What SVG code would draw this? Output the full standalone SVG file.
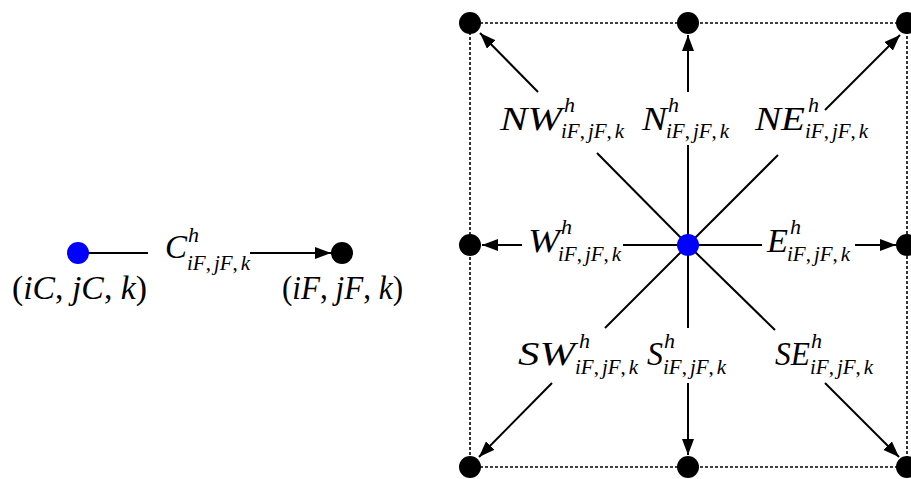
<svg xmlns="http://www.w3.org/2000/svg" width="911" height="479" viewBox="0 0 911 479">
<style>
  .bg { fill: #ffffff; }
  .ln { stroke: #000; stroke-width: 2; fill: none; }
  .ar { stroke: #000; stroke-width: 2; fill: none; marker-end: url(#ah); }
  .box { stroke: #000; stroke-width: 1.6; fill: none; stroke-dasharray: 3 2; }
  .blk { fill: #000; }
  .blu { fill: #0000ff; }
  text { font-family: "Liberation Serif", "Times New Roman", serif; font-style: italic; fill: #000; }
  .m { font-size: 33px; }
  .sp { font-size: 22px; }
  .sb { font-size: 21px; }
  .r { font-style: normal; }
</style>
<defs>
  <marker id="ah" markerUnits="userSpaceOnUse" markerWidth="18" markerHeight="12" refX="16" refY="6" orient="auto">
    <path d="M0,0 L16,6 L0,12 Z" fill="#000"/>
  </marker>
</defs>
<rect class="bg" x="0" y="0" width="911" height="479"/>
<g id="grid-border">
  <rect class="box" x="470" y="23" width="437" height="444"/>
</g>
<g id="connectors">
  <line class="ln" x1="88" y1="253" x2="148" y2="253"/>
  <line class="ar" x1="250" y1="253" x2="331" y2="253"/>
  <line class="ln" x1="688" y1="245" x2="597" y2="153"/>
  <line class="ln" x1="688" y1="245" x2="688" y2="145"/>
  <line class="ln" x1="688" y1="245" x2="778" y2="155"/>
  <line class="ln" x1="688" y1="245" x2="623" y2="245"/>
  <line class="ln" x1="688" y1="245" x2="762" y2="245"/>
  <line class="ln" x1="688" y1="245" x2="605" y2="328"/>
  <line class="ln" x1="688" y1="245" x2="688" y2="328"/>
  <line class="ln" x1="688" y1="245" x2="775" y2="330"/>
  <line class="ar" x1="538" y1="92" x2="480" y2="33"/>
  <line class="ar" x1="688" y1="92" x2="688" y2="35"/>
  <line class="ar" x1="825" y1="110" x2="900" y2="35"/>
  <line class="ar" x1="522" y1="245" x2="482" y2="245"/>
  <line class="ar" x1="855" y1="245" x2="896" y2="245"/>
  <line class="ar" x1="552" y1="383" x2="479" y2="457"/>
  <line class="ar" x1="688" y1="383" x2="688" y2="455"/>
  <line class="ar" x1="825" y1="383" x2="899" y2="457"/>
</g>
<g id="coarse-node">
  <circle class="blu" cx="78" cy="253" r="11"/>
  <text class="m" x="12" y="299" textLength="135" lengthAdjust="spacingAndGlyphs"><tspan class="r">(</tspan>iC<tspan class="r">, </tspan>jC<tspan class="r">, </tspan>k<tspan class="r">)</tspan></text>
</g>
<g id="fine-node">
  <circle class="blk" cx="342" cy="253" r="11"/>
  <text class="m" x="282" y="299" textLength="121" lengthAdjust="spacingAndGlyphs"><tspan class="r">(</tspan>iF<tspan class="r">, </tspan>jF<tspan class="r">, </tspan>k<tspan class="r">)</tspan></text>
</g>
<g id="label-C">
  <text><tspan class="m" x="165" y="258" textLength="22" lengthAdjust="spacingAndGlyphs">C</tspan><tspan class="sp" x="188" y="242">h</tspan><tspan class="sb" x="187" y="270">iF</tspan><tspan class="sb r">,</tspan><tspan class="sb" dx="3">jF</tspan><tspan class="sb r">,</tspan><tspan class="sb" dx="3">k</tspan></text>
</g>
<g id="center-node">
  <circle class="blu" cx="688" cy="245" r="11"/>
</g>
<g id="grid-nodes">
  <circle class="blk" cx="470" cy="23" r="11"/>
  <circle class="blk" cx="688" cy="23" r="11"/>
  <circle class="blk" cx="907" cy="23" r="11"/>
  <circle class="blk" cx="470" cy="245" r="11"/>
  <circle class="blk" cx="907" cy="245" r="11"/>
  <circle class="blk" cx="470" cy="467" r="11"/>
  <circle class="blk" cx="688" cy="467" r="11"/>
  <circle class="blk" cx="907" cy="467" r="11"/>
</g>
<g id="label-NW">
  <text><tspan class="m" x="500" y="130" textLength="62" lengthAdjust="spacingAndGlyphs">NW</tspan><tspan class="sp" x="564" y="112">h</tspan><tspan class="sb" x="561" y="138">iF</tspan><tspan class="sb r">,</tspan><tspan class="sb" dx="3">jF</tspan><tspan class="sb r">,</tspan><tspan class="sb" dx="3">k</tspan></text>
</g>
<g id="label-N">
  <text><tspan class="m" x="642" y="130" textLength="25" lengthAdjust="spacingAndGlyphs">N</tspan><tspan class="sp" x="668" y="112">h</tspan><tspan class="sb" x="666" y="138">iF</tspan><tspan class="sb r">,</tspan><tspan class="sb" dx="3">jF</tspan><tspan class="sb r">,</tspan><tspan class="sb" dx="3">k</tspan></text>
</g>
<g id="label-NE">
  <text><tspan class="m" x="755" y="130" textLength="50" lengthAdjust="spacingAndGlyphs">NE</tspan><tspan class="sp" x="808" y="112">h</tspan><tspan class="sb" x="805" y="138">iF</tspan><tspan class="sb r">,</tspan><tspan class="sb" dx="3">jF</tspan><tspan class="sb r">,</tspan><tspan class="sb" dx="3">k</tspan></text>
</g>
<g id="label-W">
  <text><tspan class="m" x="528" y="252" textLength="32" lengthAdjust="spacingAndGlyphs">W</tspan><tspan class="sp" x="561" y="234">h</tspan><tspan class="sb" x="558" y="261">iF</tspan><tspan class="sb r">,</tspan><tspan class="sb" dx="3">jF</tspan><tspan class="sb r">,</tspan><tspan class="sb" dx="3">k</tspan></text>
</g>
<g id="label-E">
  <text><tspan class="m" x="767" y="252" textLength="21" lengthAdjust="spacingAndGlyphs">E</tspan><tspan class="sp" x="790" y="234">h</tspan><tspan class="sb" x="787" y="261">iF</tspan><tspan class="sb r">,</tspan><tspan class="sb" dx="3">jF</tspan><tspan class="sb r">,</tspan><tspan class="sb" dx="3">k</tspan></text>
</g>
<g id="label-SW">
  <text><tspan class="m" x="518" y="365" textLength="57" lengthAdjust="spacingAndGlyphs">SW</tspan><tspan class="sp" x="579" y="348">h</tspan><tspan class="sb" x="575" y="374">iF</tspan><tspan class="sb r">,</tspan><tspan class="sb" dx="3">jF</tspan><tspan class="sb r">,</tspan><tspan class="sb" dx="3">k</tspan></text>
</g>
<g id="label-S">
  <text><tspan class="m" x="647" y="365" textLength="16" lengthAdjust="spacingAndGlyphs">S</tspan><tspan class="sp" x="664" y="348">h</tspan><tspan class="sb" x="663" y="374">iF</tspan><tspan class="sb r">,</tspan><tspan class="sb" dx="3">jF</tspan><tspan class="sb r">,</tspan><tspan class="sb" dx="3">k</tspan></text>
</g>
<g id="label-SE">
  <text><tspan class="m" x="775" y="365" textLength="35" lengthAdjust="spacingAndGlyphs">SE</tspan><tspan class="sp" x="811" y="348">h</tspan><tspan class="sb" x="810" y="374">iF</tspan><tspan class="sb r">,</tspan><tspan class="sb" dx="3">jF</tspan><tspan class="sb r">,</tspan><tspan class="sb" dx="3">k</tspan></text>
</g>
</svg>
